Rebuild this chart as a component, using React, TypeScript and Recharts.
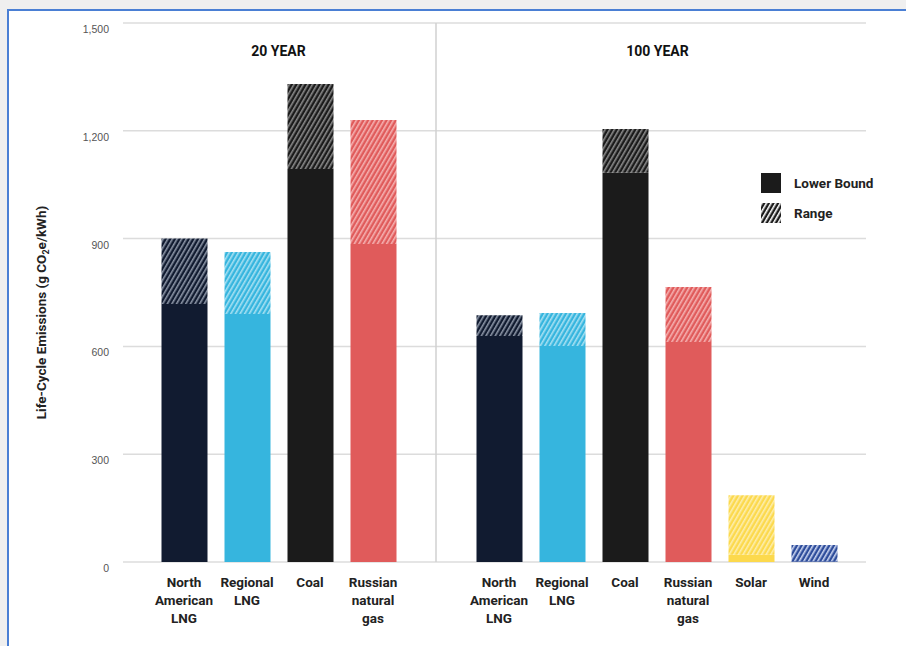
import React from "react";
import {
  BarChart,
  Bar,
  XAxis,
  YAxis,
  CartesianGrid,
  ReferenceLine,
  Cell,
} from "recharts";

const categories = [
  "North American LNG",
  "Regional LNG",
  "Coal",
  "Russian natural gas",
  "",
  "North American LNG",
  "Regional LNG",
  "Coal",
  "Russian natural gas",
  "Solar",
  "Wind",
];

// lower bound and upper end of range, g CO2e/kWh
const lowerBound = [718, 690, 1094, 885, null, 629, 601, 1083, 612, 20, 2];
const upperBound = [900, 863, 1330, 1230, null, 687, 693, 1205, 765, 186, 47];

const yTicks = [0, 300, 600, 900, 1200, 1500];

const solidColors = ["#111b30", "#36b5de", "#1b1b1b", "#e05b5b", "#fff", "#111b30", "#36b5de", "#1b1b1b", "#e05b5b", "#fcd94d", "#2e4d9b"];
const stripeColors = ["#8c95a6", "#a6e0f2", "#8a8a8a", "#f5b0b0", "#fff", "#8c95a6", "#a6e0f2", "#8a8a8a", "#f5b0b0", "#fdeeac", "#c9d4f0"];

const GAP_ID = "gap";

const data = categories.map((name, i) => ({
  id: name === "" ? GAP_ID : `c${i}`,
  name,
  lower: lowerBound[i],
  range: upperBound[i] == null ? null : (upperBound[i] as number) - (lowerBound[i] as number),
}));

const FONT = "Roboto, 'Liberation Sans', sans-serif";

const lines: Record<string, string[]> = {
  "North American LNG": ["North", "American", "LNG"],
  "Regional LNG": ["Regional", "LNG"],
  "Russian natural gas": ["Russian", "natural", "gas"],
};

function XTick(props: any) {
  const { x, y, payload } = props;
  const d = data.find((r) => r.id === payload.value);
  const name = d ? d.name : "";
  const parts = lines[name] || (name ? [name] : []);
  return (
    <g>
      {parts.map((p, i) => (
        <text
          key={i}
          x={x}
          y={y + 17 + i * 18}
          textAnchor="middle"
          fontFamily={FONT}
          fontWeight={700}
          fontSize={13.5}
          fill="#222"
        >
          {p}
        </text>
      ))}
    </g>
  );
}

function YTick(props: any) {
  const { x, y, payload } = props;
  return (
    <text x={x} y={y + 10} textAnchor="end" fontFamily="'Liberation Sans', Arial, sans-serif" fontSize={10.5} fill="#555">
      {payload.value.toLocaleString("en-US")}
    </text>
  );
}

function YLabel(props: any) {
  const { viewBox } = props;
  const cx = 46;
  const cy = viewBox.y + viewBox.height / 2 + 20;
  return (
    <text
      x={cx}
      y={cy}
      transform={`rotate(-90 ${cx} ${cy})`}
      textAnchor="middle"
      fontFamily={FONT}
      fontWeight={700}
      fontSize={13.5}
      fill="#222"
    >
      Life-Cycle Emissions (g CO
      <tspan fontSize={9} dy={3}>2</tspan>
      <tspan dy={-3}>e/kWh)</tspan>
    </text>
  );
}

function LegendBox() {
  return (
    <div style={{ fontFamily: FONT, fontWeight: 700, fontSize: 13.5, color: "#222" }}>
      <div style={{ display: "flex", alignItems: "center", height: 20, marginBottom: 10 }}>
        <svg width={20} height={20} style={{ marginRight: 13 }}>
          <rect width={20} height={20} fill="#1b1b1b" />
        </svg>
        Lower Bound
      </div>
      <div style={{ display: "flex", alignItems: "center", height: 20 }}>
        <svg width={20} height={20} style={{ marginRight: 13 }}>
          <defs>
            <pattern id="legendHatch" patternUnits="userSpaceOnUse" width={4} height={4} patternTransform="rotate(30)">
              <rect width={4} height={4} fill="#1b1b1b" />
              <rect width={1.6} height={4} fill="#fff" />
            </pattern>
          </defs>
          <rect width={20} height={20} fill="url(#legendHatch)" />
        </svg>
        Range
      </div>
    </div>
  );
}

const titleStyle: React.CSSProperties = {
  position: "absolute",
  top: 43,
  width: 200,
  textAlign: "center",
  fontFamily: FONT,
  fontWeight: 700,
  fontSize: 14,
  color: "#111",
};

export default function App() {
  return (
    <div style={{ position: "absolute", left: 0, top: 0, width: 906, height: 646, background: "#efefef", overflow: "hidden" }}>
      <div
        style={{
          position: "absolute",
          left: 7,
          top: 9,
          right: 0,
          bottom: 0,
          background: "#fff",
          borderTop: "2px solid #4a7fd4",
          borderLeft: "2px solid #4a7fd4",
        }}
      />
      <div style={{ position: "absolute", left: 0, top: 0 }}>
        <BarChart
          width={906}
          height={646}
          data={data}
          margin={{ top: 23, right: 40, bottom: 54, left: 0 }}
          barSize={46}
        >
          <defs>
            {solidColors.map((c, i) => (
              <pattern
                key={i}
                id={`hatch-${i}`}
                patternUnits="userSpaceOnUse"
                width={4}
                height={4}
                patternTransform="rotate(30)"
              >
                <rect width={4} height={4} fill={c} />
                <rect width={1.6} height={4} fill={stripeColors[i]} />
              </pattern>
            ))}
          </defs>
          <CartesianGrid vertical={false} stroke="#dcdcdc" strokeWidth={1.5} />
          <XAxis
            dataKey="id"
            type="category"
            height={30}
            axisLine={false}
            tickLine={false}
            interval={0}
            padding={{ left: 29.5, right: 20.5 }}
            tick={<XTick />}
          />
          <YAxis
            width={123}
            domain={[0, 1500]}
            ticks={yTicks}
            axisLine={false}
            tickLine={false}
            tickMargin={8}
            tick={<YTick />}
            label={{ content: <YLabel /> }}
          />
          <ReferenceLine x={GAP_ID} stroke="#d0d0d0" strokeWidth={1.5} />
          <Bar dataKey="lower" stackId="a" isAnimationActive={false}>
            {data.map((d, i) => (
              <Cell key={d.id} fill={solidColors[i]} />
            ))}
          </Bar>
          <Bar dataKey="range" stackId="a" isAnimationActive={false}>
            {data.map((d, i) => (
              <Cell key={d.id} fill={`url(#hatch-${i})`} />
            ))}
          </Bar>
        </BarChart>
      </div>
      <div style={{ position: "absolute", left: 761, top: 173, width: 140 }}>
        <LegendBox />
      </div>
      <div style={{ ...titleStyle, left: 178.5 }}>20 YEAR</div>
      <div style={{ ...titleStyle, left: 557.5 }}>100 YEAR</div>
    </div>
  );
}
